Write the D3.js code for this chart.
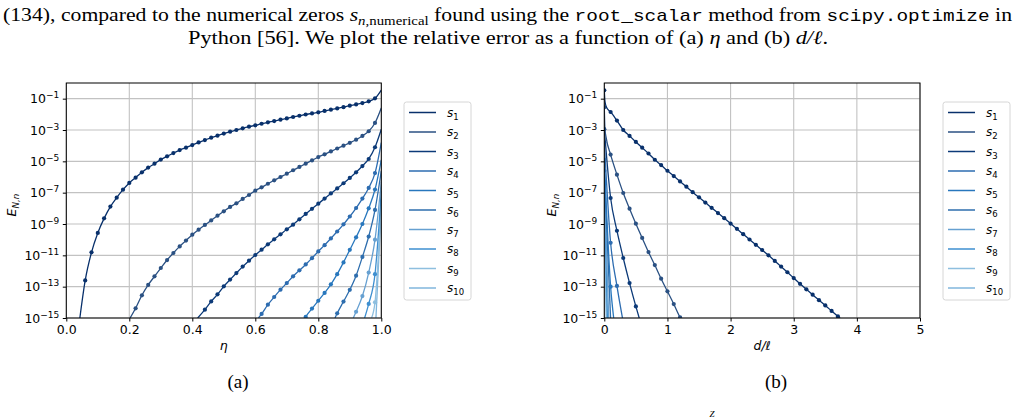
<!DOCTYPE html>
<html>
<head>
<meta charset="utf-8">
<script src="https://cdn.jsdelivr.net/npm/d3@7"></script>
<style>
  body { margin: 0; background: #fff; }
  svg { display: block; }
  .tick text { font-family: "DejaVu Sans", sans-serif; }
</style>
</head>
<body>
<svg id="fig" width="1017" height="419"></svg>
<script>
// series labels and colours (Blues-like)
var seriesNames = ['1', '2', '3', '4', '5', '6', '7', '8', '9', '10'];
var seriesColors = ['#08306b', '#2b5183', '#0c3a78', '#2d6cb0', '#2877bd',
  '#2e6eae', '#66a0d1', '#3e8fd0', '#8ebfdf', '#80b6dc'];

// panel (a): [eta, log10 E]
var s1Eta = [[0.043,-15],[0.06,-12.6],[0.08,-10.81],[0.10,-9.57],[0.12,-8.64],[0.14,-7.89],[0.16,-7.32],[0.18,-6.81],[0.20,-6.38],[0.22,-6.04],[0.24,-5.70],[0.26,-5.40],[0.28,-5.15],[0.30,-4.89],[0.32,-4.68],[0.34,-4.47],[0.36,-4.28],[0.38,-4.13],[0.40,-3.96],[0.42,-3.79],[0.44,-3.64],[0.46,-3.49],[0.48,-3.36],[0.50,-3.23],[0.52,-3.11],[0.54,-3.00],[0.56,-2.89],[0.58,-2.79],[0.60,-2.70],[0.62,-2.60],[0.64,-2.51],[0.66,-2.43],[0.68,-2.34],[0.70,-2.26],[0.72,-2.17],[0.74,-2.09],[0.76,-2.01],[0.78,-1.94],[0.80,-1.87],[0.82,-1.78],[0.84,-1.70],[0.86,-1.62],[0.88,-1.54],[0.90,-1.45],[0.92,-1.37],[0.94,-1.28],[0.96,-1.17],[0.98,-0.98],[1.0,-0.45]];
var s2Eta = [[0.2025,-15],[0.22,-14.38],[0.24,-13.55],[0.26,-12.89],[0.28,-12.34],[0.30,-11.81],[0.32,-11.30],[0.34,-10.85],[0.36,-10.43],[0.38,-10.06],[0.40,-9.68],[0.42,-9.36],[0.44,-9.06],[0.46,-8.77],[0.48,-8.47],[0.50,-8.19],[0.52,-7.91],[0.54,-7.68],[0.56,-7.40],[0.58,-7.15],[0.60,-6.87],[0.62,-6.66],[0.64,-6.43],[0.66,-6.21],[0.68,-6.00],[0.70,-5.79],[0.72,-5.57],[0.74,-5.36],[0.76,-5.15],[0.78,-4.94],[0.80,-4.73],[0.82,-4.55],[0.84,-4.37],[0.86,-4.18],[0.88,-4.00],[0.90,-3.82],[0.92,-3.62],[0.94,-3.38],[0.96,-3.08],[0.98,-2.55],[1.0,-1.6]];
var s3Eta = [[0.417,-15],[0.44,-14.47],[0.46,-13.94],[0.48,-13.49],[0.50,-12.98],[0.52,-12.55],[0.54,-12.13],[0.56,-11.72],[0.58,-11.34],[0.60,-10.98],[0.62,-10.64],[0.64,-10.30],[0.66,-9.98],[0.68,-9.66],[0.70,-9.34],[0.72,-9.04],[0.74,-8.70],[0.76,-8.36],[0.78,-8.03],[0.80,-7.70],[0.82,-7.38],[0.84,-7.05],[0.86,-6.73],[0.88,-6.40],[0.90,-6.06],[0.92,-5.70],[0.94,-5.30],[0.96,-4.85],[0.98,-4.1],[1.0,-2.95]];
var s4Eta = [[0.61,-15],[0.62,-14.74],[0.64,-14.15],[0.66,-13.66],[0.68,-13.19],[0.70,-12.77],[0.72,-12.34],[0.74,-11.96],[0.76,-11.58],[0.78,-11.18],[0.80,-10.75],[0.82,-10.35],[0.84,-9.92],[0.86,-9.48],[0.88,-9.02],[0.90,-8.52],[0.92,-7.98],[0.94,-7.38],[0.96,-6.7],[0.98,-5.75],[1.0,-3.8]];
var s5Eta = [[0.758,-15],[0.76,-14.93],[0.78,-14.4],[0.80,-13.9],[0.82,-13.4],[0.84,-12.85],[0.86,-12.2],[0.88,-11.45],[0.90,-10.65],[0.92,-9.85],[0.94,-9.0],[0.96,-8.0],[0.98,-6.8],[1.0,-4.9]];
var s6Eta = [[0.853,-15],[0.86,-14.7],[0.88,-13.95],[0.90,-13.2],[0.92,-12.3],[0.94,-11.1],[0.96,-9.8],[0.98,-8.1],[1.0,-5.6]];
var s7Eta = [[0.911,-15],[0.92,-14.6],[0.94,-13.6],[0.96,-12.1],[0.98,-10.0],[1.0,-6.3]];
var s8Eta = [[0.947,-15],[0.96,-14.1],[0.98,-12.2],[1.0,-6.9]];
var s9Eta = [[0.969,-15],[0.98,-14.0],[1.0,-7.4]];
var s10Eta = [[0.983,-15],[1.0,-7.9]];

// panel (b): [d/l, log10 E]
var s1D = [[0,-0.47],[0.01,-1.15],[0.03,-1.5],[0.06,-1.7],[0.1,-1.85],[0.2,-2.4],[0.3,-3.0],[0.4,-3.38],[0.5,-3.76],[0.6,-4.13],[0.7,-4.5],[0.8,-4.9],[0.9,-5.24],[1.0,-5.6],[1.1,-5.94],[1.2,-6.28],[1.3,-6.62],[1.4,-6.97],[1.5,-7.3],[1.6,-7.63],[1.7,-7.97],[1.8,-8.3],[1.9,-8.63],[2.0,-8.97],[2.1,-9.31],[2.2,-9.65],[2.3,-9.99],[2.4,-10.33],[2.5,-10.66],[2.6,-11.0],[2.7,-11.36],[2.8,-11.72],[2.9,-12.08],[3.0,-12.45],[3.1,-12.82],[3.2,-13.17],[3.3,-13.51],[3.4,-13.86],[3.5,-14.2],[3.6,-14.55],[3.7,-14.9],[3.75,-15.07]];
var s2D = [[0,-1.55],[0.01,-2.9],[0.03,-3.5],[0.1,-4.57],[0.2,-5.85],[0.3,-7.02],[0.4,-8.02],[0.5,-8.98],[0.6,-9.89],[0.7,-10.79],[0.8,-11.62],[0.9,-12.49],[1.0,-13.30],[1.1,-14.11],[1.2,-14.96],[1.22,-15.1]];
var s3D = [[0,-2.95],[0.1,-7.34],[0.2,-9.43],[0.3,-11.17],[0.4,-12.77],[0.5,-14.26],[0.56,-15.1]];
var s4D = [[0,-3.8],[0.1,-10.2],[0.2,-12.95],[0.29,-15.05]];
var s5D = [[0,-4.9],[0.1,-13.0],[0.15,-15.05]];
var s6D = [[0,-5.6],[0.1,-15.05]];
var s7D = [[0,-6.3],[0.07,-15.05]];
var s8D = [[0,-6.9],[0.05,-15.05]];
var s9D = [[0,-7.4],[0.04,-15.05]];
var s10D = [[0,-7.9],[0.03,-15.05]];

var yTickExps = [-1, -3, -5, -7, -9, -11, -13, -15];
var xTicksA = [0, 0.2, 0.4, 0.6, 0.8, 1.0];
var xTicksB = [0, 1, 2, 3, 4, 5];

var seriesA = [s1Eta, s2Eta, s3Eta, s4Eta, s5Eta, s6Eta, s7Eta, s8Eta, s9Eta, s10Eta];
var seriesB = [s1D, s2D, s3D, s4D, s5D, s6D, s7D, s8D, s9D, s10D];

var svg = d3.select('#fig');
svg.append('rect').attr('width', 1017).attr('height', 419).attr('fill', '#fff');

// paper text around the figure
function paperText() {
  var serif = '"Liberation Serif", "DejaVu Serif", serif';
  var mono = '"Liberation Mono", "DejaVu Sans Mono", monospace';
  var t1 = svg.append('text').attr('x', 3).attr('y', 21)
    .attr('font-family', serif).attr('font-size', 19)
    .attr('textLength', 1009).attr('lengthAdjust', 'spacingAndGlyphs');
  t1.append('tspan').text('(134), compared to the numerical zeros ');
  t1.append('tspan').attr('font-style', 'italic').text('s');
  t1.append('tspan').attr('font-size', 13).attr('font-style', 'italic').attr('dy', 4).text('n');
  t1.append('tspan').attr('font-size', 13).text(',numerical');
  t1.append('tspan').attr('dy', -4).text(' found using the ');
  t1.append('tspan').attr('font-family', mono).attr('font-size', 17).text('root_scalar');
  t1.append('tspan').text(' method from ');
  t1.append('tspan').attr('font-family', mono).attr('font-size', 17).text('scipy.optimize');
  t1.append('tspan').text(' in');

  var t2 = svg.append('text').attr('x', 188).attr('y', 44)
    .attr('font-family', serif).attr('font-size', 19)
    .attr('textLength', 640).attr('lengthAdjust', 'spacingAndGlyphs');
  t2.append('tspan').text('Python [56]. We plot the relative error as a function of (a) ');
  t2.append('tspan').attr('font-style', 'italic').text('η');
  t2.append('tspan').text(' and (b) ');
  t2.append('tspan').attr('font-style', 'italic').text('d/ℓ');
  t2.append('tspan').text('.');

  svg.append('text').attr('x', 238).attr('y', 388).attr('text-anchor', 'middle')
    .attr('font-family', serif).attr('font-size', 19).text('(a)');
  svg.append('text').attr('x', 776).attr('y', 388).attr('text-anchor', 'middle')
    .attr('font-family', serif).attr('font-size', 19).text('(b)');
  // small glyph from the next line of the page, at the bottom edge
  svg.append('text').attr('x', 712).attr('y', 417).attr('text-anchor', 'middle')
    .attr('font-family', serif).attr('font-size', 9).attr('font-style', 'italic').text('Z');
}

function drawPanel(opts) {
  var left = opts.left, right = opts.right, top = 83, bottom = 318;
  var x = d3.scaleLinear().domain(opts.xDomain).range([left, right]);
  var y = d3.scaleLog().domain([1e-15, 1]).range([bottom, top]);
  var g = svg.append('g');

  // grid
  g.selectAll('.gx').data(opts.xTicks).enter().append('line')
    .attr('x1', function(d) { return x(d); }).attr('x2', function(d) { return x(d); })
    .attr('y1', top).attr('y2', bottom)
    .attr('stroke', '#c2c2c2').attr('stroke-width', 1.1);
  g.selectAll('.gy').data(yTickExps).enter().append('line')
    .attr('x1', left).attr('x2', right)
    .attr('y1', function(d) { return y(Math.pow(10, d)); })
    .attr('y2', function(d) { return y(Math.pow(10, d)); })
    .attr('stroke', '#c2c2c2').attr('stroke-width', 1.1);

  var clipId = 'clip' + opts.id;
  svg.append('clipPath').attr('id', clipId).append('rect')
    .attr('x', left).attr('y', top).attr('width', right - left).attr('height', bottom - top);

  var line = d3.line()
    .x(function(d) { return x(d[0]); })
    .y(function(d) { return y(Math.pow(10, d[1])); })
    .curve(d3.curveMonotoneX);

  var plot = g.append('g').attr('clip-path', 'url(#' + clipId + ')');
  // draw light curves first so dark ones sit on top
  for (var i = opts.series.length - 1; i >= 0; i--) {
    var pts = opts.series[i];
    plot.append('path').datum(pts).attr('d', line)
      .attr('fill', 'none').attr('stroke', seriesColors[i]).attr('stroke-width', 1.3);
    var marks = pts.filter(function(p) {
      var k = p[0] / opts.markStep;
      return Math.abs(k - Math.round(k)) < 1e-6 && p[1] >= -15 && p[0] < opts.markMax;
    });
    plot.selectAll('.m' + i).data(marks).enter().append('circle')
      .attr('cx', function(d) { return x(d[0]); })
      .attr('cy', function(d) { return y(Math.pow(10, d[1])); })
      .attr('r', 2.1).attr('fill', seriesColors[i]);
  }

  // frame
  g.append('rect').attr('x', left).attr('y', top).attr('width', right - left).attr('height', bottom - top)
    .attr('fill', 'none').attr('stroke', '#000').attr('stroke-width', 1);

  // axes
  var xAxis = d3.axisBottom(x).tickValues(opts.xTicks).tickSize(3.5).tickPadding(3.5)
    .tickFormat(opts.xFormat);
  var gx = g.append('g').attr('transform', 'translate(0,' + bottom + ')').call(xAxis);
  gx.select('.domain').remove();
  gx.selectAll('text').attr('font-size', 12.5).attr('fill', '#000');

  var yAxis = d3.axisLeft(y).tickValues(yTickExps.map(function(e) { return Math.pow(10, e); }))
    .tickSize(3.5).tickPadding(3.5);
  var gy = g.append('g').attr('transform', 'translate(' + left + ',0)').call(yAxis);
  gy.select('.domain').remove();
  gy.selectAll('text').attr('font-size', 12.5).attr('fill', '#000')
    .each(function(d) {
      var t = d3.select(this);
      var e = Math.round(Math.log10(d));
      t.text('');
      t.append('tspan').text('10');
      t.append('tspan').attr('font-size', 9).attr('dy', '-0.55em').text('\u2212' + Math.abs(e));
    });

  // axis labels
  var yl = svg.append('text')
    .attr('transform', 'translate(' + opts.yLabelX + ',' + 205 + ') rotate(-90)')
    .attr('text-anchor', 'middle')
    .attr('font-family', '"DejaVu Sans", sans-serif').attr('font-size', 12.5);
  yl.append('tspan').attr('font-style', 'italic').text('E');
  yl.append('tspan').attr('font-style', 'italic').attr('font-size', 8.8).attr('dy', 3).text('N,n');

  svg.append('text').attr('x', (left + right) / 2).attr('y', 350)
    .attr('text-anchor', 'middle')
    .attr('font-family', '"DejaVu Sans", sans-serif').attr('font-size', 12.5)
    .attr('font-style', 'italic').text(opts.xLabel);

  // legend
  var lg = svg.append('g').attr('transform', 'translate(' + opts.legendX + ',102)');
  lg.append('rect').attr('x', 0).attr('y', 0).attr('width', 67).attr('height', 198)
    .attr('rx', 2.5).attr('fill', '#fff').attr('stroke', '#d6d6d6').attr('stroke-width', 1);
  var items = lg.selectAll('.item').data(seriesNames).enter().append('g')
    .attr('transform', function(d, i) { return 'translate(0,' + (10.5 + i * 19.5) + ')'; });
  items.append('line').attr('x1', 5).attr('x2', 32).attr('y1', 0).attr('y2', 0)
    .attr('stroke', function(d, i) { return seriesColors[i]; }).attr('stroke-width', 1.5);
  var lt = items.append('text').attr('x', 43).attr('y', 4)
    .attr('font-family', '"DejaVu Sans", sans-serif').attr('font-size', 12);
  lt.append('tspan').attr('font-style', 'italic').text('s');
  lt.append('tspan').attr('font-size', 8.5).attr('dy', 3).text(function(d) { return d; });
}

paperText();

drawPanel({
  id: 'a', left: 66.3, right: 381.3, xDomain: [0, 1], xTicks: xTicksA,
  xFormat: d3.format('.1f'), series: seriesA, markStep: 0.02, markMax: 0.999,
  yLabelX: 16, xLabel: 'η', legendX: 404
});
drawPanel({
  id: 'b', left: 604.3, right: 920, xDomain: [0, 5], xTicks: xTicksB,
  xFormat: d3.format('d'), series: seriesB, markStep: 0.1, markMax: 10,
  yLabelX: 556, xLabel: 'd/ℓ', legendX: 943
});
</script>
</body>
</html>
